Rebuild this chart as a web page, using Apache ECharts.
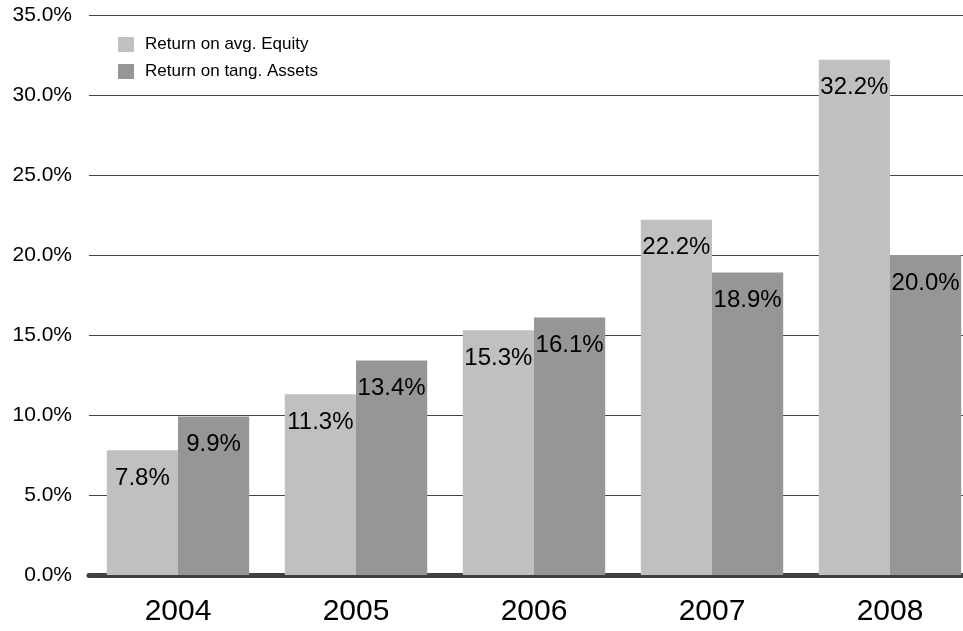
<!DOCTYPE html>
<html>
<head>
<meta charset="utf-8">
<title>Return</title>
<script src="https://cdn.jsdelivr.net/npm/echarts@6/dist/echarts.min.js"></script>
<style>
  html, body { margin: 0; padding: 0; background: #fff; overflow: hidden; }
  /* the plot runs a little past the right edge of the picture */
  #chart { width: 979px; height: 631px; }
</style>
</head>
<body>
<div id="chart"></div>
<script type="text/javascript">
    var years = ['2004', '2005', '2006', '2007', '2008'];
    var equity = [7.8, 11.3, 15.3, 22.2, 32.2];
    var assets = [9.9, 13.4, 16.1, 18.9, 20.0];

    var chart = echarts.init(document.getElementById('chart'));

    // tall, narrow digits in the original
    var narrow = '"Liberation Sans Narrow", "Arial Narrow", "Liberation Sans", sans-serif';

    var labelStyle = {
      show: true,
      position: 'insideTop',
      distance: 16,
      color: '#000',
      fontSize: 24,
      fontFamily: narrow,
      formatter: function (p) { return p.value.toFixed(1) + '%'; }
    };

    var option = {
      animation: false,
      textStyle: { fontFamily: 'Liberation Sans' },
      legend: {
        orient: 'vertical',
        left: 113,
        top: 31,
        itemGap: 10,
        itemWidth: 16,
        itemHeight: 15,
        icon: 'rect',
        textStyle: { fontSize: 17, color: '#000', fontFamily: 'Liberation Sans', padding: [0, 0, 0, 6] },
        data: ['Return on avg. Equity', 'Return on tang. Assets']
      },
      grid: { left: 89, right: 0, top: 15, bottom: 56 },
      xAxis: {
        type: 'category',
        data: years,
        axisLine: { lineStyle: { color: '#404040', width: 5, cap: 'round' } },
        axisTick: { show: false },
        axisLabel: { color: '#000', fontSize: 30, margin: 22 }
      },
      yAxis: {
        type: 'value',
        min: 0,
        max: 35,
        interval: 5,
        axisLine: { show: false },
        axisTick: { show: false },
        axisLabel: {
          color: '#000', fontSize: 21, margin: 17, fontFamily: narrow,
          formatter: function (v) { return v.toFixed(1) + '%'; }
        },
        splitLine: { lineStyle: { color: '#444', width: 1 } }
      },
      series: [
        {
          name: 'Return on avg. Equity',
          type: 'bar',
          data: equity,
          barGap: '0%',
          barCategoryGap: '20%',
          itemStyle: { color: '#c0c0c0' },
          label: labelStyle
        },
        {
          name: 'Return on tang. Assets',
          type: 'bar',
          data: assets,
          itemStyle: { color: '#969696' },
          label: labelStyle
        }
      ]
    };

    chart.setOption(option);
</script>
</body>
</html>
